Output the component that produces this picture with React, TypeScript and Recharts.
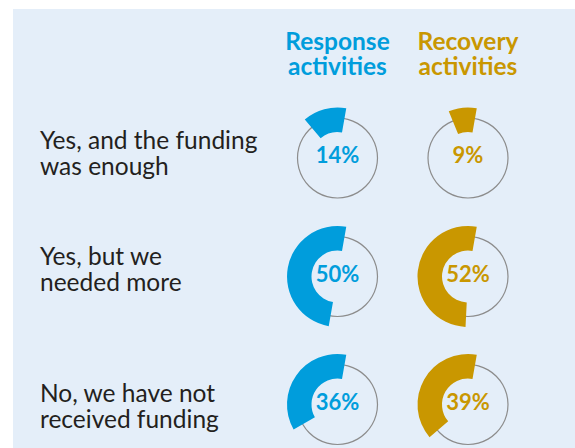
import { PieChart, Pie, Cell } from 'recharts';

// answers (row labels, split into lines as in the reference)
const answers = [
  ['Yes, and the funding', 'was enough'],
  ['Yes, but we', 'needed more'],
  ['No, we have not', 'received funding'],
];
// column headers
const groups = [
  ['Response', 'activities'],
  ['Recovery', 'activities'],
];
const responseValues = [14, 50, 36];
const recoveryValues = [9, 52, 39];

const colors = ['#009ddc', '#c99700'];
const colX = [337.5, 468];
const rowY = [158, 276.5, 404.5];
const labelTop = [126.8, 242.5, 379.8];
const FONT = 'Lato, "Open Sans", sans-serif';

const series = [responseValues, recoveryValues];

export default function App() {
  return (
    <div style={{ position: 'absolute', left: 0, top: 0, width: 575, height: 448, background: '#fff', overflow: 'hidden', fontFamily: FONT }}>
      <div style={{ position: 'absolute', left: 13, top: 9, width: 562, height: 439, background: '#e4eef9' }} />

      {groups.map((g, i) => (
        <div key={g[0]} style={{ position: 'absolute', left: colX[i] - 70, top: 28, width: 140, textAlign: 'center', color: colors[i], fontWeight: 700, fontSize: 24.5, lineHeight: '25px' }}>
          {g[0]}<br />{g[1]}
        </div>
      ))}

      {answers.map((a, i) => (
        <div key={a[0]} style={{ position: 'absolute', left: 40, top: labelTop[i], color: '#231f20', fontSize: 24.5, lineHeight: '26px', whiteSpace: 'nowrap' }}>
          {a[0]}<br />{a[1]}
        </div>
      ))}

      <div style={{ position: 'absolute', left: 0, top: 0 }}>
        <PieChart width={575} height={448} margin={{ top: 0, right: 0, bottom: 0, left: 0 }}>
          {series.map((vals, c) =>
            vals.map((v, r) => (
              <Pie
                key={`ring-${c}-${r}`}
                data={[{ name: 'ring', value: 100 }]}
                dataKey="value"
                cx={colX[c]}
                cy={rowY[r]}
                innerRadius={39.4}
                outerRadius={40.6}
                startAngle={90}
                endAngle={450}
                fill="#8c8c8c"
                stroke="none"
                isAnimationActive={false}
              />
            ))
          )}
          {series.map((vals, c) =>
            vals.map((v, r) => (
              <Pie
                key={`val-${c}-${r}`}
                data={[{ name: 'share', value: v }, { name: 'rest', value: 100 - v }]}
                dataKey="value"
                cx={colX[c]}
                cy={rowY[r]}
                innerRadius={26}
                outerRadius={50.5}
                startAngle={80}
                endAngle={440}
                stroke="none"
                labelLine={false}
                label={(p: any) =>
                  p.index === 0 ? (
                    <text x={p.cx} y={p.cy + 5} textAnchor="middle" fill={colors[c]} fontFamily={FONT} fontWeight={700} fontSize={22}>
                      {`${v}%`}
                    </text>
                  ) : null
                }
                isAnimationActive={false}
              >
                <Cell fill={colors[c]} />
                <Cell fill="none" />
              </Pie>
            ))
          )}
        </PieChart>
      </div>
    </div>
  );
}
